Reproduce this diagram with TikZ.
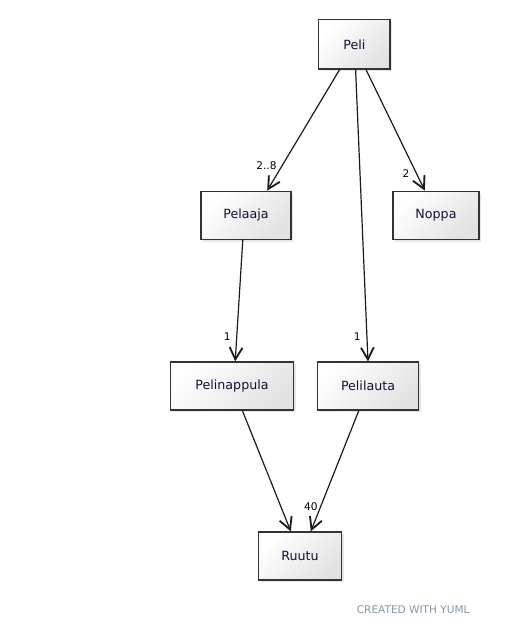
\documentclass[tikz,border=0pt]{standalone}
\usepackage{fontspec}
\setmainfont{DejaVu Sans}
\usetikzlibrary{arrows.meta}
\usetikzlibrary{positioning}
\usetikzlibrary{calc}
\usetikzlibrary{shadows}
\definecolor{yuml_rand}{HTML}{333333}
\definecolor{yuml_grau}{HTML}{E2E2E2}
\definecolor{yuml_text}{HTML}{10103A}
\definecolor{yuml_pfeil}{HTML}{1A1A1A}
\definecolor{yuml_logo}{HTML}{8593AC}
\begin{document}
\begin{tikzpicture}[scale=1.0,
  klasse/.style={draw=yuml_rand, line width=0.9pt, rectangle, minimum height=1.2cm, drop shadow={shadow xshift=0.06cm, shadow yshift=-0.06cm, opacity=0.2}, top color=white, bottom color=yuml_grau, shading angle=45, text=yuml_text, font=\fontsize{9}{11}\selectfont},
  pfeil/.style={-{Straight Barb[length=0.3cm, width=0.32cm, line width=1.3pt]}, line width=0.85pt, yuml_pfeil},
  anzahl/.style={font=\fontsize{7.5}{9}\selectfont, inner sep=0pt}]
%\draw[help lines] (0cm,0cm) grid (13cm,-16cm);
\useasboundingbox (0cm,0cm) rectangle (12.85cm,-15.775cm);

\node[klasse, minimum width=1.78cm, minimum height=1.23cm] (peli) at (8.86cm,-1.11cm) {Peli};
\node[klasse, minimum width=2.25cm] (pelaaja) at (6.15cm,-5.38cm) {Pelaaja};
\node[klasse, minimum width=2.15cm] (noppa) at (10.9cm,-5.38cm) {Noppa};
\node[klasse, minimum width=3.08cm] (pelinappula) at (5.8cm,-9.65cm) {Pelinappula};
\node[klasse, minimum width=2.53cm] (pelilauta) at (9.2cm,-9.65cm) {Pelilauta};
\node[klasse, minimum width=2.08cm] (ruutu) at (7.5cm,-13.9cm) {Ruutu};

\draw[pfeil] ($ (peli.south) + (-0.37cm,0cm) $) -- ($ (pelaaja.north) + (0.53cm,0cm) $);
\draw[pfeil] ($ (peli.south) + (0.03cm,0cm) $) -- (pelilauta.north);
\draw[pfeil] ($ (peli.south) + (0.29cm,0cm) $) -- ($ (noppa.north) + (-0.28cm,0cm) $);
\draw[pfeil] ($ (pelaaja.south) + (-0.08cm,0cm) $) -- ($ (pelinappula.north) + (0.08cm,0cm) $);
\draw[pfeil] ($ (pelinappula.south) + (0.26cm,0cm) $) -- ($ (ruutu.north) + (-0.23cm,0cm) $);
\draw[pfeil] ($ (pelilauta.south) + (-0.23cm,0cm) $) -- ($ (ruutu.north) + (0.27cm,0cm) $);

\node[anzahl] (anzahlpelaaja) at ($ (pelaaja.north) + (0.51cm,0.62cm) $) {2..8};
\node[anzahl] (anzahlnoppa) at ($ (noppa.north) + (-0.75cm,0.43cm) $) {2};
\node[anzahl] (anzahlpelinappula) at ($ (pelinappula.north) + (-0.12cm,0.62cm) $) {1};
\node[anzahl] (anzahlpelilauta) at ($ (pelilauta.north) + (-0.27cm,0.62cm) $) {1};
\node[anzahl] (anzahlruutu) at ($ (ruutu.north) + (0.27cm,0.62cm) $) {40};

\node[anzahl, text=yuml_logo] (logo) at (10.33cm,-15.25cm) {CREATED WITH YUML};
\end{tikzpicture}
\end{document}
